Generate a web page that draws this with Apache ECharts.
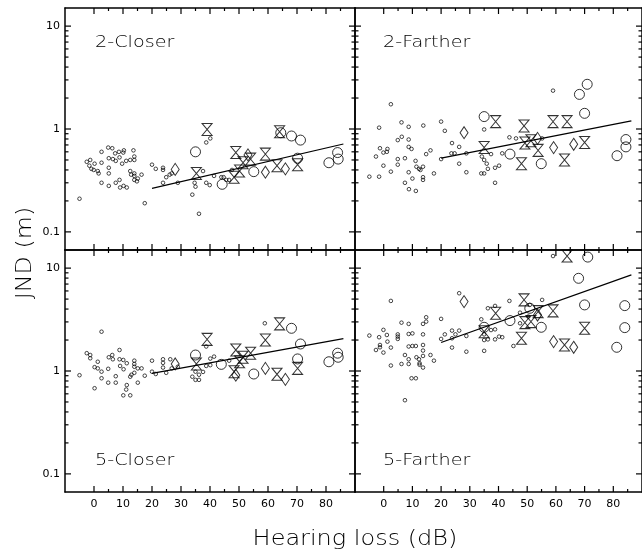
<!DOCTYPE html>
<html>
<head>
<meta charset="utf-8">
<script src="https://cdn.jsdelivr.net/npm/echarts@6/dist/echarts.min.js"></script>
<style>html,body{margin:0;padding:0;background:#fff}#c{width:642px;height:555px}</style>
</head>
<body>
<div id="c"></div>
<script>
// ---------------- data ----------------
const panelNames = ['2-Closer', '2-Farther', '5-Closer', '5-Farther'];
const xTitle = 'Hearing loss (dB)';
const yTitle = 'JND (m)';
const xMajorTicks = [0, 10, 20, 30, 40, 50, 60, 70, 80];
const xMinorTicks = [5, 15, 25, 35, 45, 55, 65, 75, 85];
const yMajorTicks = [0.1, 1, 10];
const yMinorTicks = [0.2, 0.3, 0.4, 0.5, 0.6, 0.7, 0.8, 0.9, 2, 3, 4, 5, 6, 7, 8, 9];
const xMin = -10, xMax = 90;
const yMin = 1 / 15, yMax = 15;

// Panel 1: 2-Closer
const closer2Dots = [[-5,0.21],[-2.5,0.48],[-1.3,0.50],[0.2,0.46],[-1.6,0.44],[-0.9,0.41],[-0.1,0.40],[1.3,0.39],[1.6,0.37],[2.6,0.60],[2.6,0.47],[2.6,0.30],[4.9,0.66],[6.3,0.65],[5.1,0.52],[5.1,0.42],[5.1,0.37],[5.1,0.28],[6.5,0.51],[7.3,0.58],[7.5,0.49],[7.5,0.30],[8.6,0.60],[10.1,0.59],[8.8,0.53],[9.7,0.46],[8.8,0.32],[9.0,0.27],[10.2,0.28],[11.3,0.27],[10.3,0.62],[11.1,0.49],[12.5,0.50],[12.5,0.39],[13.6,0.62],[13.9,0.54],[13.9,0.50],[12.8,0.36],[13.9,0.37],[13.9,0.35],[13.9,0.32],[14.8,0.31],[15.1,0.33],[16.4,0.36],[17.5,0.19],[20,0.45],[21.3,0.41],[23.8,0.42],[23.8,0.40],[23.8,0.30],[24.9,0.34],[26.1,0.36],[26.8,0.37],[28.9,0.30],[33.9,0.23],[34.7,0.30],[35,0.275],[36.2,0.15],[37.6,0.39],[38.7,0.74],[40.1,0.81],[38.7,0.30],[39.9,0.285],[41.4,0.35],[43.9,0.34],[44.7,0.34],[45.6,0.32],[46.6,0.32],[47.6,0.40]];
const closer2Circles = [[35,0.60],[44.2,0.29],[55.1,0.385],[64.4,0.92],[68.1,0.855],[71.2,0.78],[70.2,0.52],[81,0.47],[84,0.59],[84.2,0.51]];
const closer2Diamonds = [[28,0.405],[53.1,0.56],[59.1,0.38],[66,0.41]];
const closer2Hourglass = [[39,0.99],[35.3,0.37],[48.9,0.59],[48.3,0.34],[51.4,0.47],[54,0.51],[59.1,0.57],[64,0.94],[63.1,0.44],[70.2,0.45],[50.2,0.39]];
const closer2Fit = [[20,0.265],[86,0.715]];

// Panel 2: 2-Farther
const farther2Dots = [[-5,0.344],[-1.6,1.03],[-1.6,0.344],[-2.7,0.54],[-1.3,0.65],[-0.1,0.44],[-0.1,0.59],[1.3,0.64],[1.1,0.60],[2.5,1.74],[2.5,0.385],[4.9,0.51],[4.9,0.45],[4.9,0.78],[6.2,1.16],[6.3,0.84],[7.4,0.52],[7.4,0.30],[8.7,1.05],[8.7,0.79],[8.7,0.67],[8.7,0.38],[9.7,0.64],[8.8,0.26],[10,0.33],[11.2,0.25],[11.1,0.49],[11.4,0.43],[12.3,0.41],[12.8,0.40],[13.7,0.43],[13.7,0.34],[13.7,0.32],[13.8,1.08],[14.8,0.57],[16.3,0.62],[17.5,0.37],[20,1.18],[20,0.51],[21.3,0.96],[23.8,0.73],[23.6,0.58],[24.7,0.58],[26.3,0.67],[26.3,0.46],[28.8,0.58],[28.8,0.38],[34,0.37],[35,0.37],[35,0.99],[34.2,0.54],[35,0.50],[35.9,0.46],[36.3,0.41],[37.4,0.57],[38.8,0.30],[38.8,0.42],[40.2,0.44],[41.3,0.58],[43.8,0.83],[46.1,0.81],[55.2,0.81],[59,2.36]];
const farther2Circles = [[35,1.32],[44,0.57],[54.9,0.46],[68.2,2.17],[70.9,2.72],[70,1.42],[81.3,0.55],[84.4,0.79],[84.4,0.67]];
const farther2Diamonds = [[28,0.92],[53.6,0.81],[59.2,0.66],[66.2,0.71]];
const farther2Hourglass = [[39,1.18],[35,0.66],[48.9,1.07],[48,0.46],[49.2,0.73],[51.3,0.77],[53.8,0.62],[59,1.18],[63.9,1.18],[63,0.50],[70,0.74]];
const farther2Fit = [[20,0.522],[86.3,1.2]];

// Panel 3: 5-Closer
const closer5Dots = [[-5,0.91],[-2.5,1.49],[-1.3,1.43],[-1.3,1.33],[0.2,0.68],[0.2,1.09],[1.3,1.06],[1.3,1.23],[2.6,2.41],[2.6,0.985],[2.6,0.85],[4.9,1.05],[4.9,0.77],[5.1,1.36],[6.3,1.43],[6.5,1.30],[7.5,0.89],[7.5,0.77],[8.8,1.60],[8.8,1.30],[9,1.12],[10.1,1.28],[10.2,1.04],[11.3,1.19],[10.1,0.58],[11.1,0.66],[11.3,0.73],[12.5,0.58],[12.5,0.88],[12.9,0.92],[13.9,1.26],[13.9,1.17],[13.9,1.10],[13.9,0.96],[15.1,1.06],[15.1,0.77],[16.4,1.06],[17.5,0.90],[20,1.26],[20,0.985],[21.3,0.935],[23.8,1.30],[23.8,1.20],[23.8,1.08],[24.9,0.96],[26.3,1.30],[26.8,1.06],[28.9,1.10],[33.9,0.88],[35,0.985],[35,0.82],[36.2,0.82],[36.2,0.92],[37.6,0.98],[38.7,1.73],[38.7,1.12],[40.1,1.14],[40.1,1.32],[41.4,1.38],[46.6,1.26],[58.9,2.91]];
const closer5Circles = [[35,1.43],[43.9,1.16],[55.1,0.935],[68.1,2.60],[71.2,1.83],[70.2,1.31],[81,1.23],[84,1.49],[84.2,1.36]];
const closer5Diamonds = [[28,1.17],[48.9,0.91],[59.1,1.06],[66,0.83]];
const closer5Hourglass = [[39,2.03],[35.3,1.17],[48.9,1.60],[48.3,0.985],[51.4,1.36],[54,1.49],[59.1,2.00],[64,2.87],[63.1,0.93],[70.2,1.06],[50.2,1.23]];
const closer5Fit = [[20,0.95],[86,2.06]];

// Panel 4: 5-Farther
const farther5Dots = [[-5,2.21],[-2.7,1.60],[-1.6,2.13],[-1.3,1.79],[-1.3,1.70],[-0.1,2.51],[-0.1,1.51],[1.1,2.24],[1.3,1.93],[2.5,4.8],[2.5,1.69],[2.5,1.13],[4.9,2.27],[4.9,2.16],[4.9,2.05],[6.2,2.95],[6.2,1.17],[7.4,1.43],[7.4,0.52],[8.7,2.87],[8.7,2.29],[8.7,1.73],[8.7,1.30],[8.7,1.17],[10,2.32],[10,1.75],[9.7,0.85],[11.2,0.85],[11.2,1.75],[11.4,1.36],[12.3,1.30],[12.5,1.19],[12.5,1.15],[13.7,2.87],[13.7,2.27],[13.7,1.79],[13.7,1.58],[13.7,1.40],[13.7,1.08],[14.8,3.33],[14.8,3.02],[16.3,1.43],[17.5,1.26],[20,3.21],[20,2.05],[21.3,2.27],[23.8,2.47],[23.8,2.08],[23.8,1.69],[25,2.27],[26.3,2.47],[26.3,5.7],[28.8,2.19],[28.8,1.54],[34,3.18],[35,2.27],[35,1.57],[35,2.0],[36.3,2.03],[36.3,4.07],[37.4,2.50],[38.8,4.29],[38.8,2.54],[38.8,2.03],[40.2,2.16],[41.3,2.13],[43.8,4.8],[45.2,1.75],[47.5,3.69],[47.5,2.91],[50.4,3.38],[50.9,4.39],[55.2,4.91],[59,13.1]];
const farther5Circles = [[35,2.66],[44,3.09],[54.9,2.66],[67.9,7.96],[71.1,12.8],[70,4.39],[81.2,1.70],[84,4.32],[84,2.64],[50.9,4.07]];
const farther5Diamonds = [[28,4.73],[53.6,3.5],[59.2,1.93],[66.2,1.70]];
const farther5Hourglass = [[63.9,13.1],[39,3.64],[35,2.41],[48.9,4.91],[48,2.08],[49.2,2.95],[51.3,3.02],[53.8,3.78],[59,3.84],[63,1.79],[70,2.60]];
const farther5Fit = [[20,1.89],[86.3,8.59]];

// ---------------- chart ----------------
const FONT = "'DejaVu Sans', sans-serif";
const panels = [
  {dots: closer2Dots, circles: closer2Circles, diamonds: closer2Diamonds, hour: closer2Hourglass, fit: closer2Fit},
  {dots: farther2Dots, circles: farther2Circles, diamonds: farther2Diamonds, hour: farther2Hourglass, fit: farther2Fit},
  {dots: closer5Dots, circles: closer5Circles, diamonds: closer5Diamonds, hour: closer5Hourglass, fit: closer5Fit},
  {dots: farther5Dots, circles: farther5Circles, diamonds: farther5Diamonds, hour: farther5Hourglass, fit: farther5Fit}
];
const gridPos = [
  {left: 65, top: 8}, {left: 355, top: 8},
  {left: 65, top: 250}, {left: 355, top: 250}
];
const PW = 290, PH = 242;
const TICK_LEN = {x: [3, 6], y: [3.5, 6]};   // [minor, major]
const DIRS = [[0, -1], [0, 1], [1, 0], [-1, 0]]; // bottom, top, left, right (inward)

// Tick records built from the tick arrays: [x, y, direction, isMajor]
function tickRecords() {
  const out = [];
  const addX = (vals, major) => vals.forEach(v => { out.push([v, yMin, 0, major]); out.push([v, yMax, 1, major]); });
  const addY = (vals, major) => vals.forEach(v => { out.push([xMin, v, 2, major]); out.push([xMax, v, 3, major]); });
  addX(xMajorTicks, 1); addX(xMinorTicks, 0);
  addY(yMajorTicks, 1); addY(yMinorTicks, 0);
  return out;
}
const ticks = tickRecords();

const grids = [], xAxes = [], yAxes = [], series = [];
const frame = {show: true, onZero: false, lineStyle: {color: '#000', width: 1.5}};

gridPos.forEach((g, i) => {
  grids.push({left: g.left, top: g.top, width: PW, height: PH, containLabel: false});
  const showX = i >= 2, showY = i % 2 === 0;
  ['bottom', 'top'].forEach(pos => {
    xAxes.push({
      type: 'value', gridIndex: i, position: pos, min: xMin, max: xMax, interval: 10,
      splitLine: {show: false}, axisLine: frame, axisTick: {show: false},
      axisLabel: {show: showX && pos === 'bottom', customValues: xMajorTicks, fontSize: 11, color: '#000', margin: 7, fontFamily: FONT}
    });
  });
  ['left', 'right'].forEach(pos => {
    yAxes.push({
      type: 'log', logBase: 10, gridIndex: i, position: pos, min: yMin, max: yMax,
      splitLine: {show: false}, axisLine: frame, axisTick: {show: false},
      axisLabel: {show: showY && pos === 'left', customValues: yMajorTicks, fontSize: 11, color: '#000', margin: 5, fontFamily: FONT,
        formatter: v => String(Math.round(v * 10) / 10)}
    });
  });
  const p = panels[i];
  const base = {xAxisIndex: i * 2, yAxisIndex: i * 2, silent: true};
  const open = {color: 'rgba(0,0,0,0)', borderColor: '#000', borderWidth: 1};
  series.push(Object.assign({type: 'scatter', data: p.dots, symbol: 'circle', symbolSize: 3.6,
    itemStyle: {color: 'rgba(0,0,0,0)', borderColor: '#000', borderWidth: 0.9}}, base));
  series.push(Object.assign({type: 'scatter', data: p.circles, symbol: 'circle', symbolSize: 10, itemStyle: open}, base));
  series.push(Object.assign({type: 'scatter', data: p.diamonds, symbol: 'diamond', symbolSize: [8, 12], itemStyle: open}, base));
  series.push(Object.assign({type: 'scatter', data: p.hour, symbol: 'path://M0,0L10,0L0,12L10,12Z', symbolSize: [10, 12], symbolKeepAspect: false, itemStyle: open}, base));
  series.push(Object.assign({type: 'line', data: p.fit, symbol: 'none', lineStyle: {color: '#000', width: 1.2}}, base));
  // axis tick marks, placed through the panel's own scales
  series.push(Object.assign({
    type: 'custom', data: ticks, clip: false, encode: {x: 0, y: 1},
    renderItem: (params, api) => {
      const pt = api.coord([api.value(0), api.value(1)]);
      const dir = api.value(2), major = api.value(3);
      const len = (dir < 2 ? TICK_LEN.x : TICK_LEN.y)[major ? 1 : 0];
      const d = DIRS[dir];
      return {type: 'line', silent: true,
        shape: {x1: pt[0], y1: pt[1], x2: pt[0] + d[0] * len, y2: pt[1] + d[1] * len},
        style: {stroke: '#000', lineWidth: 1.2}};
    }
  }, base));
});

const txt = (t, x, y, size, opts) => Object.assign({
  type: 'text', x: x, y: y, silent: true,
  style: {text: t, fill: '#000', fontSize: size, fontFamily: FONT, fontWeight: 200,
    align: (opts && opts.align) || 'left', verticalAlign: 'middle'}
}, opts && opts.el);

const graphic = [
  txt(panelNames[0], 95, 43, 16, {el: {scaleX: 1.2}}),
  txt(panelNames[1], 383, 43, 16, {el: {scaleX: 1.2}}),
  txt(panelNames[2], 95, 461, 16, {el: {scaleX: 1.2}}),
  txt(panelNames[3], 383, 461, 16, {el: {scaleX: 1.2}}),
  txt(xTitle, 355, 539, 22, {align: 'center', el: {scaleX: 1.09}}),
  txt(yTitle, 25, 253, 22, {align: 'center', el: {scaleX: 1.08, rotation: Math.PI / 2}})
];

const chart = echarts.init(document.getElementById('c'), null, {renderer: 'canvas'});
chart.setOption({
  animation: false,
  backgroundColor: '#fff',
  grid: grids,
  xAxis: xAxes,
  yAxis: yAxes,
  series: series,
  graphic: graphic
});
</script>
</body>
</html>
